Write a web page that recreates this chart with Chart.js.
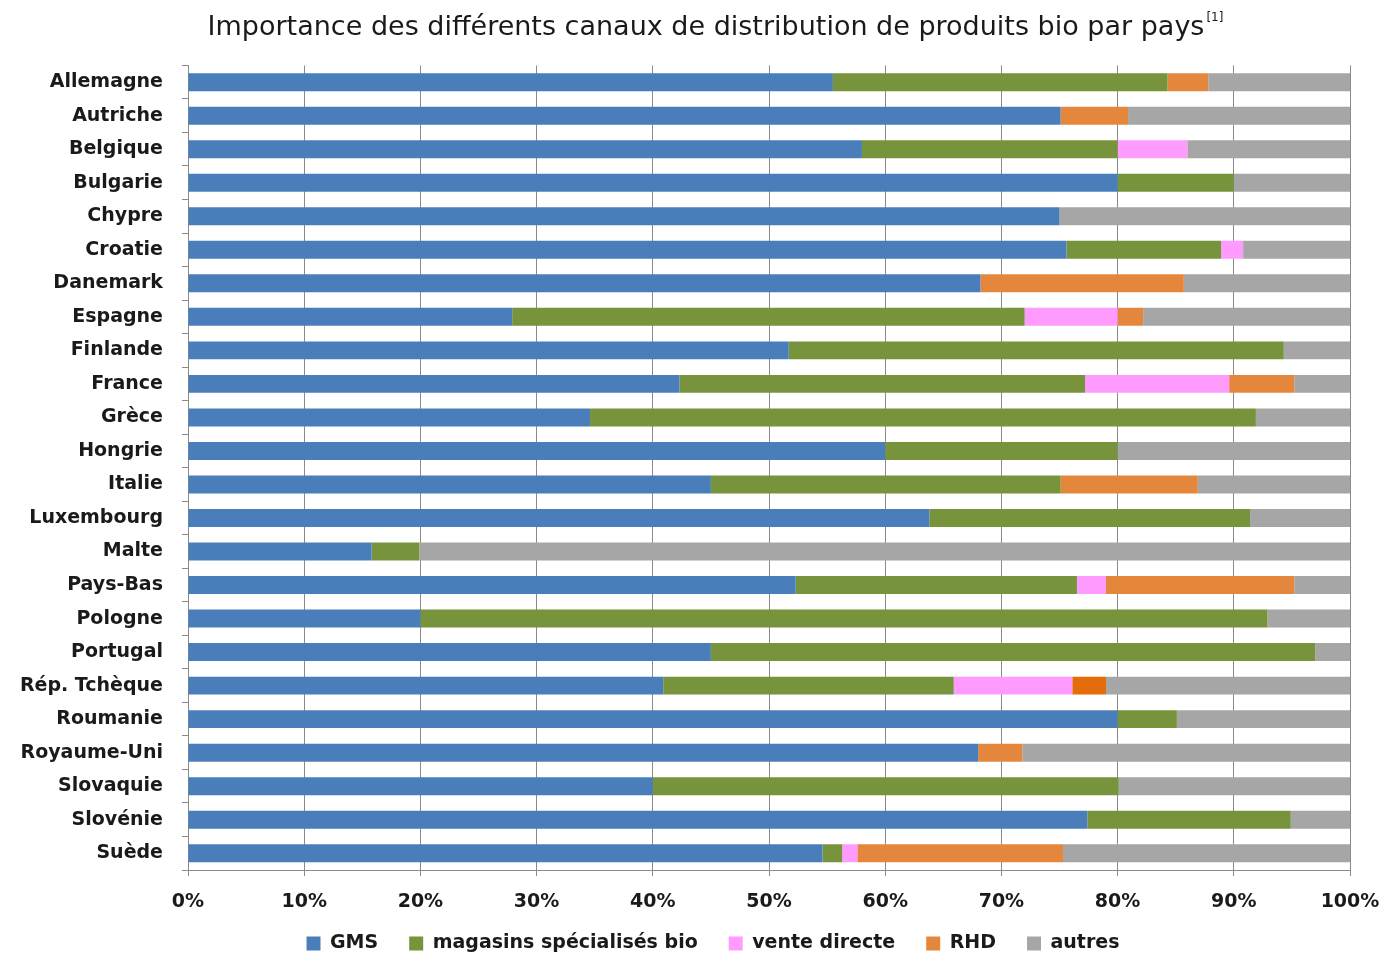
<!DOCTYPE html>
<html><head><meta charset="utf-8">
<script src="https://cdn.jsdelivr.net/npm/chart.js@4.4.1/dist/chart.umd.min.js"></script>
<style>html,body{margin:0;padding:0;background:#fff}</style>
</head><body>
<canvas id="c" width="1385" height="955"></canvas>
<script>
const titleText = "Importance des différents canaux de distribution de produits bio par pays";
const titleNote = "[1]";
const categories = ["Allemagne","Autriche","Belgique","Bulgarie","Chypre","Croatie","Danemark","Espagne","Finlande","France","Grèce","Hongrie","Italie","Luxembourg","Malte","Pays-Bas","Pologne","Portugal","Rép. Tchèque","Roumanie","Royaume-Uni","Slovaquie","Slovénie","Suède"];
const seriesNames = ["GMS","magasins spécialisés bio","vente directe","RHD","autres"];
const gms      = [55.5,75.1,58,80,75,75.6,68.2,27.9,51.7,42.3,34.6,60,45,63.8,15.8,52.3,20,45,40.9,80,68,40,77.4,54.6];
const magasins = [28.8,0,22,10,0,13.3,0,44.1,42.6,34.9,57.3,20,30.1,27.6,4.1,24.2,72.9,52,25,5.1,0,40.1,17.5,1.7];
const vente    = [0,0,6,0,0,1.9,0,8,0,12.4,0,0,0,0,0,2.5,0,0,10.2,0,0,0,0,1.3];
const rhd      = [3.5,5.8,0,0,0,0,17.5,2.2,0,5.6,0,0,11.8,0,0,16.2,0,0,2.9,0,3.8,0,0,17.7];
const autres   = [12.2,19.1,14,10,25,9.2,14.3,17.8,5.7,4.8,8.1,20,13.1,8.6,80.1,4.8,7.1,3,21,14.9,28.2,19.9,5.1,24.7];
const xTicks = [0,10,20,30,40,50,60,70,80,90,100];

const colors = ["#4A7EBB","#77933C","#FF9BFF","#E4873C","#A6A6A6"];
const rhdColors = categories.map(c => c === "Rép. Tchèque" ? "#E46C0A" : colors[3]);
const FONT = "'DejaVu Sans', sans-serif";
const TXT = "#1a1a1a";

const layoutPlugin = {
  id: 'layoutTweak',
  beforeLayout(chart) {
    const lg = chart.legend;
    if (lg && !lg._patched) {
      const orig = lg.fit;
      lg.fit = function () { orig.call(this); this.height = 37; };
      lg._patched = true;
    }
  },
  afterLayout(chart) {
    const lg = chart.legend;
    if (lg) { lg.top -= 11; lg.bottom = 955; lg.left = 76; lg.right = 1350; }
    const tb = chart.titleBlock;
    if (tb) { tb.left = 62; tb.right = 1350; }
  },
  afterDraw(chart) {
    const tb = chart.titleBlock;
    if (!tb) return;
    const ctx = chart.ctx;
    const opts = chart.options.plugins.title;
    ctx.save();
    ctx.font = `${opts.font.weight||'normal'} ${opts.font.size}px ${FONT}`;
    const w = ctx.measureText(titleText).width;
    const cx = (tb.left + tb.right) / 2;
    const x = cx + w / 2 + 2;
    const y = tb.top + opts.padding.top + 6;
    ctx.font = `normal 12px ${FONT}`;
    ctx.fillStyle = TXT;
    ctx.textAlign = 'left';
    ctx.textBaseline = 'middle';
    ctx.fillText(titleNote, x, y);
    ctx.restore();
  }
};

const datasets = [
  {label: seriesNames[0], data: gms, backgroundColor: colors[0]},
  {label: seriesNames[1], data: magasins, backgroundColor: colors[1]},
  {label: seriesNames[2], data: vente, backgroundColor: colors[2]},
  {label: seriesNames[3], data: rhd, backgroundColor: rhdColors},
  {label: seriesNames[4], data: autres, backgroundColor: colors[4]}
].map(d => Object.assign(d, {barPercentage: 0.535, categoryPercentage: 1, borderWidth: 0}));

new Chart(document.getElementById('c'), {
  type: 'bar',
  data: {labels: categories, datasets},
  options: {
    indexAxis: 'y',
    responsive: false,
    animation: false,
    events: [],
    layout: {padding: {left: 0, right: 35, top: 0, bottom: 4}},
    scales: {
      x: {
        stacked: true, min: 0, max: 100,
        afterBuildTicks(s) { s.ticks = xTicks.map(v => ({value: v})); },
        ticks: {callback: v => v + '%', color: TXT, padding: 15, font: {family: FONT, size: 19, weight: 'bold'}},
        grid: {color: '#8a8a8a', lineWidth: 1, tickLength: 6},
        border: {color: '#8a8a8a'},
        afterFit(s) { s.height = 44; s.paddingLeft = 0; s.paddingRight = 0; }
      },
      y: {
        stacked: true,
        ticks: {color: TXT, padding: 19, font: {family: FONT, size: 19, weight: 'bold'}},
        grid: {drawOnChartArea: false, drawTicks: true, tickLength: 6, color: '#8a8a8a', offset: true},
        border: {color: '#8a8a8a'},
        afterFit(s) { s.width = 188; s.paddingTop = 0; s.paddingBottom = 0; }
      }
    },
    plugins: {
      tooltip: {enabled: false},
      title: {
        display: true, text: titleText, color: TXT,
        font: {family: FONT, size: 27, weight: 'normal'},
        padding: {top: 12, bottom: 21}
      },
      legend: {
        position: 'bottom',
        labels: {
          boxWidth: 14, boxHeight: 14, padding: 31, color: TXT,
          font: {family: FONT, size: 19, weight: 'bold'}
        }
      }
    }
  },
  plugins: [layoutPlugin]
});
</script>
</body></html>
